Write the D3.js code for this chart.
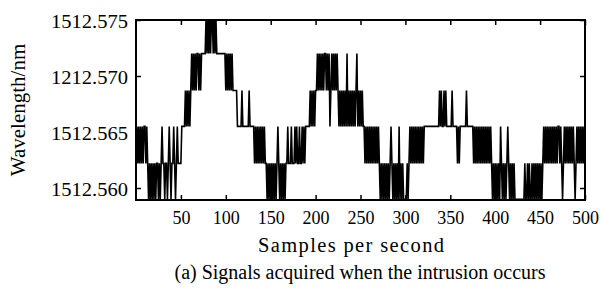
<!DOCTYPE html>
<html>
<head>
<meta charset="utf-8">
<script src="https://cdn.jsdelivr.net/npm/d3@7"></script>
<style>
  body { margin: 0; background: #fff; }
  .axis .domain { display: none; }
  .axis line { stroke: #000; stroke-width: 1.5; }
</style>
</head>
<body>
<div class="chart"></div>
<script>
// Data: wavelength levels (nm) the interrogator steps between
const levels = [1512.5590, 1512.5622, 1512.5655, 1512.5687, 1512.5720, 1512.5752];

// level index of each sample, 10 samples per chunk
const sampleCodes = [
  "2121212122", "1210101010", "1011010121", "1011012101", "1210121111",
  "2222323232", "3434343443", "4344444545", "4545545454", "4444444443",
  "4343434333", "3322222322", "2222232222", "2121212121", "2121101010",
  "1010101210", "1010101121", "1121112121", "1211212122", "2223232323",
  "3434343434", "4343423434", "3434323232", "3232423232", "3232342323",
  "2322121212", "1212121212", "1010101010", "1012101010", "1020101000",
  "0101212121", "2121212121", "2222222222", "2222222323", "2232322222",
  "2322222121", "2222222322", "2222212121", "2121212121", "2121210101",
  "0101021010", "1012101010", "1000000000", "0010010100", "1010101010",
  "1012121212", "1212121212", "2121012121", "2121212101", "2121212121"
];

const xTicks = [50, 100, 150, 200, 250, 300, 350, 400, 450, 500];
const yTicks = [1512.560, 1512.565, 1512.570, 1512.575];
const yTickLabels = ["1512.560", "1512.565", "1212.570", "1512.575"];

const xTitle = "Samples per second";
const yTitle = "Wavelength/nm";
const caption = "(a) Signals acquired when the intrusion occurs";

const data = sampleCodes.join("").split("").map((c, i) => ({sample: i + 1, value: levels[+c]}));

const serif = "'Liberation Serif', 'Times New Roman', Times, serif";

// Dimensions
const W = 601, H = 293;
const margin = {left: 136, right: 16, top: 20, bottom: 93};
const width = W - margin.left - margin.right, height = H - margin.top - margin.bottom;

// Scales
const xScale = d3.scaleLinear().domain([0, 500]).range([0, width]);
const yScale = d3.scaleLinear().domain([1512.55893, 1512.575]).range([height, 0]);

const svg = d3.select(".chart").append("svg")
    .attr("width", W)
    .attr("height", H);
const g = svg.append("g")
    .attr("transform", "translate(" + [margin.left, margin.top] + ")");

svg.append("defs").append("clipPath").attr("id", "clip")
  .append("rect").attr("width", width).attr("height", height);

// Trace
const lineGenerator = d3.line()
    .x(d => xScale(d.sample))
    .y(d => yScale(d.value));

g.append("path")
    .datum(data)
    .attr("clip-path", "url(#clip)")
    .attr("fill", "none")
    .attr("stroke", "#000")
    .attr("stroke-width", 1.6)
    .attr("stroke-linejoin", "miter")
    .attr("d", lineGenerator);

// Axes (ticks point inward on all four sides)
const xAxis = g.append("g").attr("class", "axis x")
    .attr("transform", "translate(0," + height + ")")
    .call(d3.axisBottom(xScale).tickValues(xTicks).tickSizeInner(-5).tickSizeOuter(0).tickPadding(11).tickFormat(d3.format("d")));
xAxis.attr("font-family", serif).attr("font-size", 18);
xAxis.selectAll("text").attr("fill", "#000");

g.append("g").attr("class", "axis")
    .call(d3.axisTop(xScale).tickValues(xTicks).tickSizeInner(-5).tickSizeOuter(0).tickFormat(""));

const yAxis = g.append("g").attr("class", "axis y")
    .call(d3.axisLeft(yScale).tickValues(yTicks).tickSizeInner(-5).tickSizeOuter(0).tickPadding(8)
      .tickFormat((d, i) => yTickLabels[i]));
yAxis.attr("font-family", serif).attr("font-size", 19.5);
yAxis.selectAll("text").attr("fill", "#000").attr("dy", "0.36em")
    .attr("textLength", 77).attr("lengthAdjust", "spacingAndGlyphs");

g.append("g").attr("class", "axis")
    .attr("transform", "translate(" + width + ",0)")
    .call(d3.axisRight(yScale).tickValues(yTicks).tickSizeInner(-5).tickSizeOuter(0).tickFormat(""));

// Frame
g.append("rect")
    .attr("width", width)
    .attr("height", height)
    .attr("fill", "none")
    .attr("stroke", "#000")
    .attr("stroke-width", 2);

// Titles
svg.append("text")
    .attr("x", 351)
    .attr("y", 252)
    .attr("text-anchor", "middle")
    .attr("font-family", serif)
    .attr("font-size", 20.5)
    .attr("textLength", 186)
    .attr("lengthAdjust", "spacing")
    .text(xTitle);
svg.append("text")
    .attr("transform", "translate(25," + (margin.top + height / 2) + ") rotate(-90)")
    .attr("text-anchor", "middle")
    .attr("font-family", serif)
    .attr("font-size", 21)
    .text(yTitle);
svg.append("text")
    .attr("x", 360)
    .attr("y", 279)
    .attr("text-anchor", "middle")
    .attr("font-family", serif)
    .attr("font-size", 20)
    .text(caption);
</script>
</body>
</html>
